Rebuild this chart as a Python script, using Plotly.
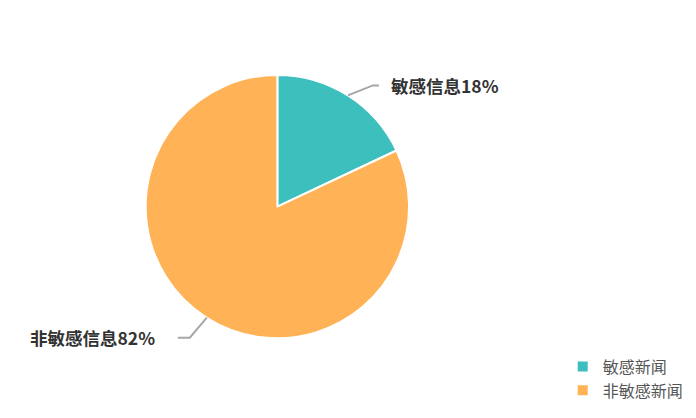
import math
import plotly.graph_objects as go

labels = ["敏感新闻", "非敏感新闻"]
text_labels = ["敏感信息", "非敏感信息"]
values = [18, 82]
colors = ["#3DBFBE", "#FFB356"]

W, H = 696, 418
DOM_X = [0.197, 0.577]
DOM_Y = [0.21, 0.84]
# leader-line styling per label: elbow offset (px), horizontal run, text gap
LEADER = [dict(dx=25, dy=-10, h=6, gap=10), dict(dx=-17, dy=20, h=12, gap=21)]

fig = go.Figure(go.Pie(
    labels=labels,
    values=values,
    sort=False,
    direction="clockwise",
    rotation=0,
    marker=dict(colors=colors, line=dict(color="#ffffff", width=2)),
    textinfo="none",
    domain=dict(x=DOM_X, y=DOM_Y),
    hoverinfo="label+percent",
))

# pie geometry (figure pixels, y downward) derived from the domain
cx = (DOM_X[0] + DOM_X[1]) / 2 * W
cy = (1 - (DOM_Y[0] + DOM_Y[1]) / 2) * H
r = min((DOM_X[1] - DOM_X[0]) * W, (DOM_Y[1] - DOM_Y[0]) * H) / 2

total = sum(values)
cum = 0
shapes, annotations = [], []
for i, v in enumerate(values):
    mid = (cum + v / 2) / total * 2 * math.pi
    cum += v
    ex, ey = cx + r * math.sin(mid), cy - r * math.cos(mid)
    st = LEADER[i]
    bx, by = ex + st["dx"], ey + st["dy"]
    side = 1 if math.sin(mid) >= 0 else -1
    hx = bx + side * st["h"]
    tx = hx + side * st["gap"]
    pts = [(ex, ey), (bx, by), (hx, by)]
    path = "M " + " L ".join(f"{x / W:.5f},{1 - y / H:.5f}" for x, y in pts)
    shapes.append(dict(type="path", xref="paper", yref="paper", path=path,
                       line=dict(color="#A6A6A6", width=2)))
    pct = round(v / total * 100)
    annotations.append(dict(
        xref="paper", yref="paper", x=tx / W, y=1 - by / H,
        xanchor="left" if side > 0 else "right", yanchor="middle",
        text=f"<b>{text_labels[i]}{pct}%</b>", showarrow=False,
        font=dict(family="Noto Sans CJK SC", size=17.5, color="#333333"),
    ))

fig.update_layout(
    width=W, height=H,
    margin=dict(l=0, r=0, t=0, b=0),
    paper_bgcolor="#ffffff",
    showlegend=True,
    legend=dict(x=0.797, y=0.044, xanchor="left", yanchor="bottom",
                font=dict(family="Noto Sans CJK SC", size=16, color="#555555"),
                itemwidth=30, tracegroupgap=0),
    font=dict(family="Noto Sans CJK SC"),
    shapes=shapes,
    annotations=annotations,
)

fig.write_html("out.html")
